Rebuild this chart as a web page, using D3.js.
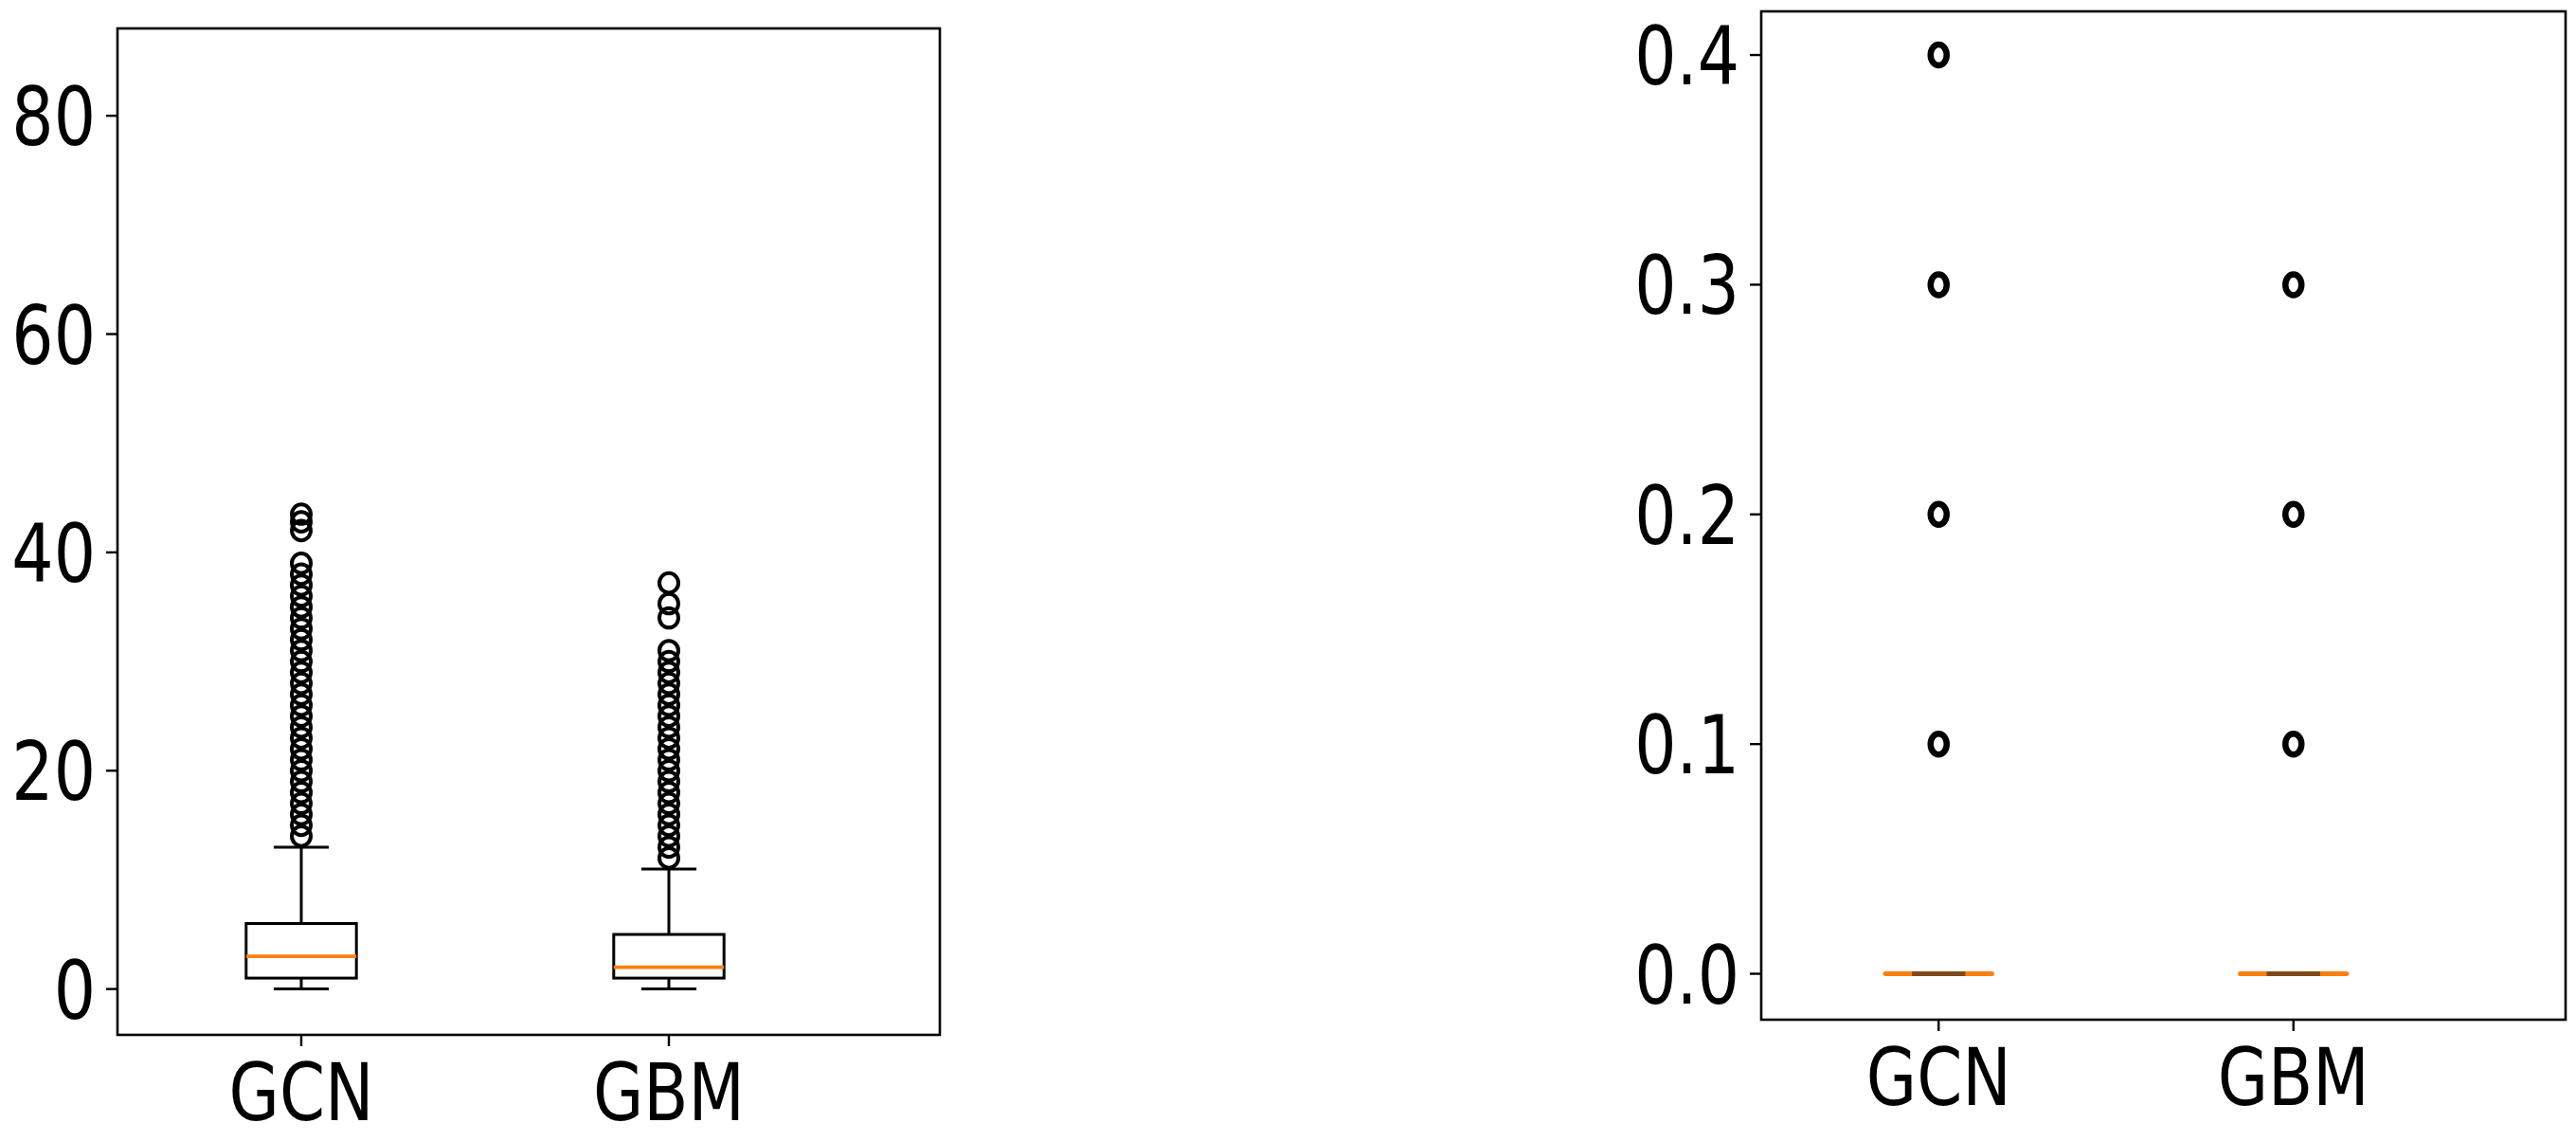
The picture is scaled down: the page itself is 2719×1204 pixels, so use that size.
<!DOCTYPE html>
<html>
<head>
<meta charset="utf-8">
<script src="https://cdn.jsdelivr.net/npm/d3@7"></script>
<style>
  html, body { margin: 0; padding: 0; background: #fff; }
  svg { display: block; }
  text { font-family: "DejaVu Sans", sans-serif; fill: #000; }
</style>
</head>
<body>
<svg id="chart" width="2719" height="1204"></svg>
<script>
// ---------- data ----------
const categories = ["GCN", "GBM"];

// left panel (counts)
const leftWhiskerLow  = [0, 0];
const leftQ1          = [1, 1];
const leftMedian      = [3, 2];
const leftQ3          = [6, 5];
const leftWhiskerHigh = [13, 11];
const leftOutliersGCN = [14, 15, 16, 17, 18, 19, 20, 21, 22, 23, 24, 25, 26, 27, 28, 29, 30, 31, 32, 33, 34, 35, 36, 37, 38, 39, 42, 42.8, 43.5];
const leftOutliersGBM = [12, 13, 14, 15, 16, 17, 18, 19, 20, 21, 22, 23, 24, 25, 26, 27, 28, 29, 30, 31, 34, 35.3, 37.2];
const leftTicks = [0, 20, 40, 60, 80];

// right panel (ratios)
const rightWhiskerLow  = [0, 0];
const rightQ1          = [0, 0];
const rightMedian      = [0, 0];
const rightQ3          = [0, 0];
const rightWhiskerHigh = [0, 0];
const rightOutliersGCN = [0.1, 0.2, 0.3, 0.4];
const rightOutliersGBM = [0.1, 0.2, 0.3];
const rightTicks = [0.0, 0.1, 0.2, 0.3, 0.4];

// ---------- drawing ----------
const svg = d3.select("#chart");
const TEXT_SX = 0.82;
const FONT = 85;

function panel(cfg) {
  const g = svg.append("g");
  const x = d3.scaleLinear().domain([0.5, 2.5]).range([cfg.left, cfg.plotRight]);
  const y = d3.scaleLinear().domain(cfg.yDomain).range([cfg.bottom, cfg.top]);

  const stats = categories.map((c, i) => ({
    name: c, pos: i + 1,
    lo: cfg.lo[i], q1: cfg.q1[i], med: cfg.med[i], q3: cfg.q3[i], hi: cfg.hi[i],
    out: cfg.out[i]
  }));

  const bw = 0.3, cw = 0.15;

  // whiskers
  stats.forEach(s => {
    g.append("line").attr("x1", x(s.pos)).attr("x2", x(s.pos))
      .attr("y1", y(s.q3)).attr("y2", y(s.hi))
      .attr("stroke", "#000").attr("stroke-width", cfg.lw);
    g.append("line").attr("x1", x(s.pos)).attr("x2", x(s.pos))
      .attr("y1", y(s.q1)).attr("y2", y(s.lo))
      .attr("stroke", "#000").attr("stroke-width", cfg.lw);
  });
  // box
  stats.forEach(s => {
    g.append("rect")
      .attr("x", x(s.pos - bw / 2)).attr("width", x(s.pos + bw / 2) - x(s.pos - bw / 2))
      .attr("y", y(s.q3)).attr("height", Math.max(0, y(s.q1) - y(s.q3)))
      .attr("fill", "none").attr("stroke", "#000").attr("stroke-width", cfg.lw);
  });
  // median
  stats.forEach(s => {
    g.append("line")
      .attr("x1", x(s.pos - bw / 2)).attr("x2", x(s.pos + bw / 2))
      .attr("y1", y(s.med)).attr("y2", y(s.med))
      .attr("stroke", "#ff7f0e").attr("stroke-width", cfg.medW)
      .attr("stroke-linecap", cfg.medCap);
  });
  // caps
  stats.forEach(s => {
    [s.lo, s.hi].forEach(v => {
      g.append("line")
        .attr("x1", x(s.pos - cw / 2)).attr("x2", x(s.pos + cw / 2))
        .attr("y1", y(v)).attr("y2", y(v))
        .attr("stroke", cfg.capColor).attr("stroke-width", cfg.capW)
        .attr("stroke-opacity", cfg.capOpacity);
    });
  });
  // fliers
  stats.forEach(s => {
    g.selectAll(null).data(s.out).enter().append("ellipse")
      .attr("cx", x(s.pos)).attr("cy", d => y(d))
      .attr("rx", cfg.rx).attr("ry", cfg.ry)
      .attr("fill", "none").attr("stroke", "#000").attr("stroke-width", cfg.fw);
  });

  // frame
  g.append("rect")
    .attr("x", cfg.left).attr("y", cfg.top)
    .attr("width", cfg.right - cfg.left).attr("height", cfg.bottom - cfg.top)
    .attr("fill", "none").attr("stroke", "#000").attr("stroke-width", 2.6);

  // y ticks
  const yt = g.append("g");
  cfg.ticks.forEach(t => {
    yt.append("line").attr("x1", cfg.left - 12).attr("x2", cfg.left)
      .attr("y1", y(t)).attr("y2", y(t))
      .attr("stroke", "#000").attr("stroke-width", 2.4);
    yt.append("text")
      .attr("transform", `translate(${cfg.left - 23},${y(t) + 31}) scale(${TEXT_SX},1)`)
      .attr("text-anchor", "end").attr("font-size", FONT)
      .text(cfg.fmt(t));
  });
  // x ticks
  stats.forEach(s => {
    g.append("line").attr("x1", x(s.pos)).attr("x2", x(s.pos))
      .attr("y1", cfg.bottom).attr("y2", cfg.bottom + 12)
      .attr("stroke", "#000").attr("stroke-width", 2.4);
    g.append("text")
      .attr("transform", `translate(${x(s.pos)},${cfg.bottom + 90}) scale(${TEXT_SX},1)`)
      .attr("text-anchor", "middle").attr("font-size", FONT - 1)
      .text(s.name);
  });
}

panel({
  left: 124, plotRight: 900, right: 992, top: 30, bottom: 1092,
  yDomain: [-4.2, 88.0],
  lo: leftWhiskerLow, q1: leftQ1, med: leftMedian, q3: leftQ3, hi: leftWhiskerHigh,
  out: [leftOutliersGCN, leftOutliersGBM],
  ticks: leftTicks, fmt: d3.format("d"),
  lw: 3, medW: 3.7, medCap: "butt", capOpacity: 1, capColor: "#000", capW: 3,
  rx: 10, ry: 10.3, fw: 4
});

panel({
  left: 1859, plotRight: 2608, right: 2708, top: 12, bottom: 1076,
  yDomain: [-0.02, 0.419],
  lo: rightWhiskerLow, q1: rightQ1, med: rightMedian, q3: rightQ3, hi: rightWhiskerHigh,
  out: [rightOutliersGCN, rightOutliersGBM],
  ticks: rightTicks, fmt: d3.format(".1f"),
  lw: 3, medW: 5, medCap: "round", capOpacity: 0.4, capColor: "#3a2a20", capW: 5,
  rx: 8.5, ry: 11, fw: 6.5
});
</script>
</body>
</html>
